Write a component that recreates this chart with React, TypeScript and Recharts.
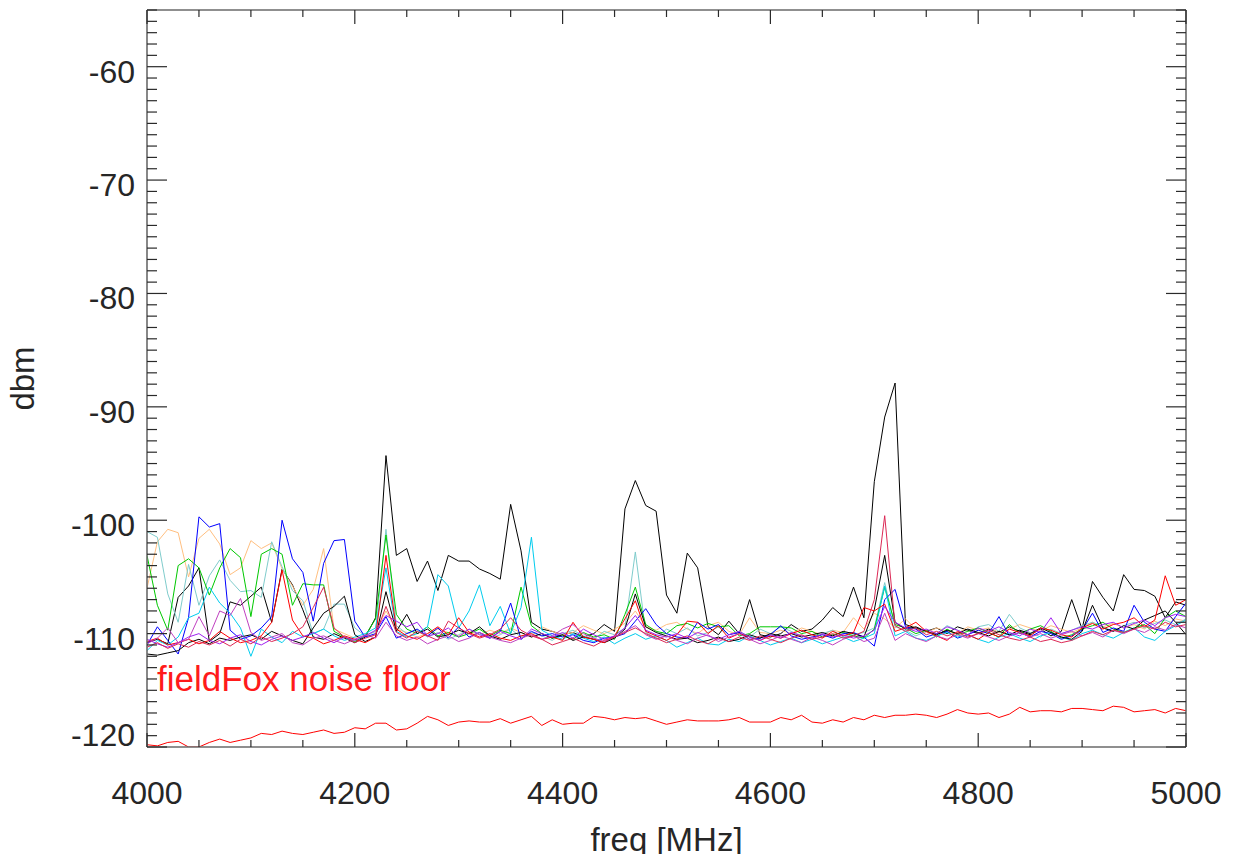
import React from 'react';
import { LineChart, Line, XAxis, YAxis, ReferenceDot } from 'recharts';

const freqMHz = [
  4000, 4010, 4020, 4030, 4040, 4050, 4060, 4070, 4080, 4090,
  4100, 4110, 4120, 4130, 4140, 4150, 4160, 4170, 4180, 4190,
  4200, 4210, 4220, 4230, 4240, 4250, 4260, 4270, 4280, 4290,
  4300, 4310, 4320, 4330, 4340, 4350, 4360, 4370, 4380, 4390,
  4400, 4410, 4420, 4430, 4440, 4450, 4460, 4470, 4480, 4490,
  4500, 4510, 4520, 4530, 4540, 4550, 4560, 4570, 4580, 4590,
  4600, 4610, 4620, 4630, 4640, 4650, 4660, 4670, 4680, 4690,
  4700, 4710, 4720, 4730, 4740, 4750, 4760, 4770, 4780, 4790,
  4800, 4810, 4820, 4830, 4840, 4850, 4860, 4870, 4880, 4890,
  4900, 4910, 4920, 4930, 4940, 4950, 4960, 4970, 4980, 4990,
  5000,
];

const xMajorTicks = [4000, 4200, 4400, 4600, 4800, 5000];
const xMinorTicks = [
  4050, 4100, 4150, 4250, 4300, 4350, 4450, 4500, 4550,
  4650, 4700, 4750, 4850, 4900, 4950,
];
const yMajorTicks = [-120, -110, -100, -90, -80, -70, -60];
const yMinorStepDb = 1;

const black1 = [
  -110.8, -110.5, -110.9, -106.8, -105.8, -104.2, -110.7, -110.0, -107.2, -107.5,
  -106.7, -105.9, -109.0, -104.3, -105.7, -107.9, -110.3, -110.5, -110.0, -110.4,
  -110.8, -110.3, -108.6, -94.3, -103.1, -102.5, -105.4, -103.6, -106.2, -103.1,
  -103.6, -103.6, -104.3, -104.7, -105.2, -98.6, -102.7, -109.0, -109.6, -109.8,
  -110.1, -109.9, -110.3, -110.0, -109.2, -109.8, -99.0, -96.5, -98.7, -99.2,
  -106.6, -108.2, -102.9, -104.2, -109.4, -110.1, -108.9, -110.0, -107.0, -110.1,
  -110.3, -110.0, -109.2, -109.8, -109.6, -108.8, -107.7, -108.5, -105.9, -108.6,
  -96.6, -90.9, -87.9, -109.2, -109.5, -109.8, -109.5, -110.0, -109.4, -109.7,
  -110.0, -109.6, -109.9, -109.4, -109.8, -110.1, -109.6, -110.2, -109.8, -107.0,
  -109.6, -105.4, -106.8, -108.0, -104.8, -106.1, -106.2, -106.7, -108.6, -107.2,
  -107.5,
];

const black2 = [
  -111.8, -111.9, -111.7, -111.5, -110.8, -110.5, -110.9, -110.4, -110.6, -110.3,
  -110.1, -110.5, -109.8, -110.2, -110.6, -110.9, -109.5, -108.2, -107.6, -106.7,
  -110.1, -110.7, -110.3, -106.3, -109.8, -108.3, -110.0, -109.6, -110.3, -110.1,
  -109.7, -110.0, -109.4, -110.2, -110.5, -110.1, -109.9, -110.3, -110.0, -110.4,
  -110.1, -110.6, -110.3, -110.5, -110.8, -110.4, -109.6, -106.5, -109.4, -109.9,
  -110.2, -110.5, -110.4, -110.8, -110.6, -110.3, -110.7, -110.5, -110.1, -110.4,
  -110.0, -110.2, -110.0, -110.3, -110.1, -109.9, -110.2, -109.8, -110.0, -110.3,
  -107.9, -103.1, -109.0, -109.6, -109.4, -109.8, -110.1, -109.7, -110.0, -109.6,
  -109.9, -110.2, -109.8, -110.1, -109.7, -110.0, -109.5, -109.9, -110.3, -110.5,
  -109.8, -107.5, -109.5, -109.8, -109.3, -109.6, -108.8, -108.4, -108.0, -109.0,
  -110.1,
];

const blue = [
  -111.0, -109.4, -110.6, -111.8, -108.6, -99.7, -100.6, -100.3, -109.7, -110.5,
  -110.2, -109.5, -108.5, -100.0, -103.4, -104.6, -108.9, -103.8, -101.8, -101.7,
  -108.9, -110.3, -110.0, -108.5, -110.4, -110.0, -109.6, -110.2, -109.5, -110.4,
  -109.4, -110.3, -109.9, -110.4, -109.8, -107.3, -110.5, -109.8, -110.2, -110.0,
  -110.3, -110.1, -110.6, -110.8, -110.4, -110.3, -110.0, -108.9, -107.8, -109.2,
  -110.0, -110.3, -110.4, -109.0, -109.6, -109.2, -110.1, -109.9, -110.5, -110.4,
  -110.1, -109.3, -110.2, -110.5, -110.3, -110.1, -110.4, -110.0, -109.9, -110.3,
  -111.1, -107.0, -106.1, -109.4, -109.6, -110.3, -110.0, -109.8, -110.4, -110.1,
  -109.7, -110.0, -108.5, -110.2, -109.9, -110.3, -109.8, -110.0, -110.5, -110.2,
  -109.7, -108.2, -109.9, -109.5, -109.8, -107.5, -109.0, -109.6, -109.8, -108.5,
  -107.3,
];

const green = [
  -103.1, -107.5, -109.7, -104.0, -103.4, -104.2, -106.6, -104.2, -102.5, -103.3,
  -108.5, -103.0, -102.5, -103.0, -107.5, -105.6, -105.7, -105.7, -109.8, -110.3,
  -110.7, -110.2, -108.7, -101.3, -108.3, -109.6, -110.0, -109.4, -110.2, -109.9,
  -110.3, -110.0, -109.6, -110.2, -109.7, -110.0, -105.9, -109.3, -110.0, -110.4,
  -110.2, -110.5, -109.9, -110.3, -110.1, -110.5, -108.3, -105.9, -109.2, -109.8,
  -110.0, -109.3, -109.1, -109.5, -109.1, -109.4, -109.3, -110.2, -110.0, -109.4,
  -109.4, -109.4, -109.5, -110.0, -109.8, -110.3, -110.1, -109.9, -110.2, -110.4,
  -109.6, -105.9, -109.2, -109.5, -110.0, -109.7, -110.3, -109.6, -110.1, -109.8,
  -109.5, -109.9, -110.3, -109.2, -110.0, -109.6, -109.3, -109.8, -110.4, -110.1,
  -109.6, -109.3, -109.0, -109.6, -109.9, -109.5, -109.2, -110.0, -108.6, -108.0,
  -108.5,
];

const red = [
  -110.7, -110.4, -111.0, -110.8, -110.5, -110.9, -110.6, -109.8, -110.4, -110.8,
  -110.6, -110.2, -109.0, -104.4, -108.8, -110.2, -110.4, -110.9, -110.6, -110.2,
  -110.5, -110.8, -110.3, -103.1, -109.6, -110.2, -110.5, -110.0, -109.4, -110.1,
  -108.6, -109.9, -110.3, -110.0, -110.4, -110.6, -110.2, -110.0, -110.5, -110.3,
  -110.6, -109.0, -110.3, -110.5, -110.8, -110.2, -108.7, -107.1, -109.8, -110.2,
  -110.6, -110.1, -108.9, -109.0, -110.0, -109.3, -110.4, -110.0, -110.3, -110.6,
  -110.2, -110.4, -110.0, -109.7, -110.1, -110.4, -109.8, -110.2, -109.9, -107.7,
  -108.0, -107.4, -109.8, -109.5, -109.0, -109.8, -110.2, -110.6, -109.8, -110.1,
  -110.5, -109.9, -110.3, -109.6, -109.9, -110.2, -109.5, -109.7, -110.1, -110.3,
  -109.5, -109.1, -109.6, -109.2, -109.0, -108.6, -109.4, -108.8, -104.9, -107.5,
  -107.0,
];

const orange = [
  -106.0, -101.9, -100.8, -101.1, -105.0, -101.6, -100.8, -102.1, -104.8, -104.2,
  -101.8, -102.5, -102.0, -104.3, -105.8, -107.5, -106.1, -102.5, -109.6, -110.0,
  -110.4, -110.2, -109.8, -108.0, -109.6, -109.9, -110.3, -110.0, -109.6, -109.9,
  -110.2, -109.8, -110.1, -109.7, -110.0, -109.5, -109.9, -110.3, -109.4, -109.8,
  -110.1, -109.9, -109.3, -109.7, -110.0, -109.6, -109.1, -108.0, -109.4, -109.7,
  -109.2, -109.0, -109.6, -110.0, -109.3, -109.0, -109.8, -110.1, -108.6, -109.9,
  -110.0, -109.7, -110.0, -109.5, -109.8, -110.1, -109.7, -109.9, -108.6, -109.6,
  -108.2, -108.7, -109.5, -108.7, -109.6, -109.9, -109.5, -109.8, -110.0, -109.4,
  -109.7, -109.5, -109.9, -109.6, -109.2, -109.5, -109.8, -109.3, -109.6, -109.9,
  -109.5, -109.0, -109.4, -109.1, -109.5, -109.2, -109.6, -108.9, -109.3, -108.7,
  -108.9,
];

const paleTeal = [
  -101.0, -101.5, -106.5, -109.0, -103.9, -107.5, -104.9, -103.5, -105.3, -106.3,
  -106.2, -106.8, -101.9, -104.1, -106.2, -107.1, -110.0, -109.6, -107.4, -107.4,
  -109.5, -110.2, -109.8, -100.8, -109.3, -110.0, -109.7, -110.3, -109.9, -110.5,
  -110.1, -109.6, -110.0, -110.4, -110.1, -109.6, -110.3, -109.9, -110.2, -110.6,
  -110.0, -109.7, -110.2, -110.5, -109.8, -110.1, -109.5, -102.8, -109.9, -110.4,
  -109.6, -110.0, -109.5, -110.2, -109.9, -109.4, -110.1, -109.8, -110.3, -109.6,
  -110.0, -109.4, -109.8, -110.2, -110.5, -110.0, -109.7, -110.3, -110.1, -109.9,
  -109.5, -105.5, -109.4, -109.7, -110.2, -109.8, -110.0, -109.3, -109.7, -110.1,
  -109.4, -109.2, -109.8, -108.3, -109.5, -109.9, -110.3, -109.6, -110.0, -109.7,
  -109.3, -109.0, -109.4, -109.8, -109.3, -109.0, -109.5, -109.1, -108.8, -109.2,
  -108.7,
];

const cyan = [
  -111.5, -110.6, -111.0, -110.3, -108.6, -108.2, -105.9, -107.3, -108.2, -109.5,
  -112.0, -109.6, -110.3, -110.8, -109.8, -110.3, -110.0, -109.6, -110.2, -110.6,
  -110.3, -110.0, -109.5, -104.2, -109.8, -110.3, -110.0, -109.4, -104.8, -105.8,
  -109.5, -108.0, -105.7, -109.3, -107.6, -110.0, -107.7, -101.5, -109.7, -110.2,
  -110.5, -110.0, -110.4, -110.7, -110.3, -110.9, -110.4, -110.0, -110.5, -110.2,
  -110.6, -111.2, -110.8, -110.4, -110.9, -111.0, -110.5, -110.7, -110.2, -110.6,
  -111.0, -110.7, -110.4, -110.8, -110.5, -110.9, -110.6, -110.3, -110.7, -110.4,
  -110.0, -105.8, -110.2, -109.8, -110.4, -110.6, -110.2, -109.9, -110.3, -110.1,
  -110.5, -110.8, -110.3, -110.0, -110.4, -110.7, -110.2, -109.9, -110.3, -110.6,
  -110.0, -109.7, -110.1, -110.4, -109.9, -109.5, -110.3, -110.6, -109.8, -109.3,
  -108.8,
];

const purple = [
  -110.5, -110.9, -111.2, -110.8, -110.3, -110.0, -110.6, -110.9, -110.4, -110.1,
  -110.7, -111.0, -110.5, -110.2, -110.6, -110.3, -109.9, -110.4, -110.8, -110.3,
  -110.6, -110.2, -109.7, -108.4, -108.9, -109.4, -109.0, -110.2, -110.0, -109.5,
  -110.3, -109.6, -110.1, -110.4, -109.8, -110.2, -110.5, -109.6, -110.0, -110.3,
  -109.9, -110.4, -109.6, -110.1, -110.5, -110.2, -109.5, -108.4, -109.7, -110.1,
  -110.3, -110.0, -110.4, -109.9, -110.2, -110.5, -110.1, -109.8, -110.3, -110.6,
  -110.1, -110.4, -109.9, -110.2, -110.5, -110.0, -110.3, -110.1, -110.4, -110.2,
  -109.7, -107.6, -109.0, -109.5, -109.8, -109.6, -110.0, -109.4, -109.7, -110.1,
  -109.5, -109.8, -109.4, -109.9, -110.2, -109.6, -109.9, -108.6, -110.0, -109.7,
  -109.4, -109.6, -109.2, -109.0, -109.5, -109.1, -108.8, -109.3, -108.6, -108.3,
  -108.5,
];

const magenta = [
  -110.9, -110.4, -109.5, -110.8, -110.5, -108.5, -110.2, -108.0, -108.4, -106.9,
  -109.9, -110.6, -110.3, -110.0, -110.8, -111.0, -110.4, -110.2, -110.6, -110.9,
  -110.5, -110.1, -110.4, -109.0, -110.2, -110.6, -110.3, -110.9, -110.5, -110.2,
  -110.7, -110.4, -109.9, -110.3, -110.6, -110.8, -110.4, -110.1, -110.5, -110.2,
  -109.6, -109.2, -110.0, -110.4, -110.7, -110.3, -109.8, -109.3, -110.1, -110.5,
  -110.2, -110.6, -110.9, -110.4, -110.1, -110.7, -110.3, -110.0, -110.5, -110.9,
  -110.6, -110.2, -110.5, -110.8, -110.3, -110.6, -111.0, -110.5, -110.2, -110.7,
  -110.4, -108.2, -110.6, -110.0, -110.4, -110.7, -110.2, -110.5, -110.1, -110.4,
  -110.0, -110.3, -110.6, -110.2, -109.9, -110.3, -110.0, -110.4, -110.1, -109.8,
  -110.2, -109.9, -110.3, -109.7, -110.0, -109.6, -109.9, -109.4, -109.7, -109.2,
  -109.5,
];

const crimson = [
  -111.2, -110.8, -111.3, -110.9, -111.2, -110.7, -111.0, -110.6, -111.1, -110.5,
  -110.9, -110.3, -110.7, -110.4, -110.0, -109.4, -107.7, -105.9, -109.5, -110.3,
  -110.8, -110.4, -110.1, -107.6, -109.9, -110.4, -109.8, -110.2, -110.6, -108.9,
  -109.5, -110.0, -110.4, -110.1, -109.6, -108.6, -109.7, -110.2, -110.5, -111.0,
  -110.7, -110.4, -110.8, -111.1, -110.6, -110.3, -109.9, -109.5, -110.0, -110.4,
  -110.8, -110.5, -110.2, -110.6, -110.9, -110.4, -110.7, -110.3, -110.6, -110.2,
  -110.5, -110.8, -110.4, -110.1, -110.5, -110.3, -110.0, -110.4, -110.2, -109.8,
  -107.0, -99.6, -109.3, -109.8, -109.5, -110.1, -109.8, -110.2, -109.9, -110.3,
  -110.0, -109.7, -110.1, -110.4, -110.6, -110.3, -110.7, -110.5, -110.8, -110.6,
  -110.2, -109.8, -110.1, -109.7, -109.9, -109.6, -109.3, -109.6, -109.0, -109.4,
  -109.2,
];

const noiseFloor = [
  -119.8, -119.9, -119.6, -119.5, -120.0, -120.0, -119.6, -119.3, -119.6, -119.4,
  -119.2, -118.8, -118.9, -118.6, -118.8, -118.9, -118.7, -118.5, -118.8, -118.7,
  -118.3, -118.4, -117.9, -117.9, -118.5, -118.4, -117.9, -117.3, -117.6, -118.1,
  -117.8, -117.7, -117.8, -117.8, -117.5, -117.9, -117.6, -117.3, -118.1, -117.6,
  -118.0, -117.9, -117.9, -117.3, -117.4, -117.6, -117.4, -117.5, -117.4, -117.7,
  -118.0, -117.8, -117.6, -117.7, -117.7, -117.7, -117.6, -117.4, -117.8, -117.8,
  -117.8, -117.4, -117.6, -117.2, -117.8, -117.9, -117.6, -117.8, -117.4, -117.6,
  -117.2, -117.4, -117.2, -117.2, -117.1, -117.2, -117.4, -117.1, -116.7, -117.0,
  -117.1, -117.0, -117.4, -117.1, -116.5, -116.9, -116.8, -116.8, -116.9, -116.6,
  -116.6, -116.7, -116.8, -116.4, -116.5, -116.9, -116.8, -116.7, -117.0, -116.6,
  -116.8,
];

const seriesDefs = [
  { key: 'black1', values: black1, color: '#000000' },
  { key: 'orange', values: orange, color: '#ffbf80' },
  { key: 'paleTeal', values: paleTeal, color: '#7fcccc' },
  { key: 'green', values: green, color: '#00c800' },
  { key: 'blue', values: blue, color: '#0000ff' },
  { key: 'cyan', values: cyan, color: '#00ccee' },
  { key: 'black2', values: black2, color: '#000000' },
  { key: 'red', values: red, color: '#ff0000' },
  { key: 'purple', values: purple, color: '#a020f0' },
  { key: 'magenta', values: magenta, color: '#c040c0' },
  { key: 'crimson', values: crimson, color: '#dc2855' },
];

const rows = freqMHz.map((f, i) => {
  const r: Record<string, number> = { f, noise: noiseFloor[i] };
  seriesDefs.forEach((s) => {
    r[s.key] = s.values[i];
  });
  return r;
});

const X_DOMAIN: [number, number] = [4000, 5000];
const Y_DOMAIN: [number, number] = [-120, -55];
const xTicks = [...xMajorTicks, ...xMinorTicks].sort((a, b) => a - b);
const yTicks: number[] = [];
for (let v = Y_DOMAIN[0]; v <= Y_DOMAIN[1]; v += yMinorStepDb) yTicks.push(v);

const FONT = "'Liberation Sans', Arial, Helvetica, sans-serif";
const FRAME = '#6a6a6a';
const TICK = '#2a2a2a';
const TXT = '#262626';

const BottomTick = (p: any) => {
  const major = xMajorTicks.includes(p.payload.value);
  return (
    <g>
      <line x1={p.x} x2={p.x} y1={p.y} y2={p.y - (major ? 14 : 7)} stroke={TICK} strokeWidth={1.2} />
      {major ? (
        <text x={p.x} y={p.y + 57} textAnchor="middle" fontSize={32} fontFamily={FONT} fill={TXT}>
          {p.payload.value}
        </text>
      ) : null}
    </g>
  );
};

const TopTick = (p: any) => {
  const major = xMajorTicks.includes(p.payload.value);
  return <line x1={p.x} x2={p.x} y1={p.y} y2={p.y + (major ? 14 : 7)} stroke={TICK} strokeWidth={1.2} />;
};

const LeftTick = (p: any) => {
  const v = p.payload.value;
  const major = yMajorTicks.includes(v);
  const base = v === Y_DOMAIN[0] ? p.y - 1 : p.y + 16;
  return (
    <g>
      <line x1={p.x} x2={p.x + (major ? 20 : 10)} y1={p.y} y2={p.y} stroke={TICK} strokeWidth={1.2} />
      {major ? (
        <text x={p.x - 12} y={base} textAnchor="end" fontSize={32} fontFamily={FONT} fill={TXT}>
          {v}
        </text>
      ) : null}
    </g>
  );
};

const RightTick = (p: any) => {
  const major = yMajorTicks.includes(p.payload.value);
  return <line x1={p.x} x2={p.x - (major ? 20 : 10)} y1={p.y} y2={p.y} stroke={TICK} strokeWidth={1.2} />;
};

const XTitle = (p: any) => {
  const vb = p.viewBox || { x: 147, y: 747, width: 1039 };
  return (
    <text x={vb.x + vb.width / 2} y={vb.y + 104} textAnchor="middle" fontSize={33} fontFamily={FONT} fill={TXT}>
      freq [MHz]
    </text>
  );
};

const YTitle = (p: any) => {
  const vb = p.viewBox || { x: 0, y: 10, width: 147, height: 737 };
  const cx = 34;
  const cy = vb.y + vb.height / 2;
  return (
    <text x={cx} y={cy} transform={`rotate(-90, ${cx}, ${cy})`} textAnchor="middle" fontSize={33} fontFamily={FONT} fill={TXT}>
      dbm
    </text>
  );
};

const NoteLabel = (p: any) => {
  const vb = p.viewBox;
  const x = vb.x + vb.width / 2 + 10;
  const y = vb.y + vb.height / 2 + 12;
  return (
    <text x={x} y={y} fontSize={35} fontFamily={FONT} fill="#ff1a1a">
      fieldFox noise floor
    </text>
  );
};

const W = 1241;
const H = 862;

export default function App() {
  return (
    <div style={{ width: W, height: H, margin: '-8px 0 -8px -8px', background: '#ffffff' }}>
      <LineChart width={W} height={H} data={rows} margin={{ top: 9, right: 54, bottom: 0, left: 0 }}>
        <XAxis
          xAxisId="b"
          dataKey="f"
          type="number"
          domain={X_DOMAIN}
          allowDataOverflow
          ticks={xTicks}
          interval={0}
          tickSize={0}
          tickMargin={0}
          height={115}
          tickLine={false}
          axisLine={{ stroke: FRAME, strokeWidth: 1.6 }}
          tick={(p: any) => <BottomTick {...p} />}
          label={{ content: (p: any) => <XTitle {...p} /> }}
        />
        <XAxis
          xAxisId="t"
          orientation="top"
          dataKey="f"
          type="number"
          domain={X_DOMAIN}
          allowDataOverflow
          ticks={xTicks}
          interval={0}
          tickSize={0}
          tickMargin={0}
          height={1}
          tickLine={false}
          axisLine={{ stroke: FRAME, strokeWidth: 1.6 }}
          tick={(p: any) => <TopTick {...p} />}
        />
        <YAxis
          yAxisId="l"
          type="number"
          domain={Y_DOMAIN}
          allowDataOverflow
          ticks={yTicks}
          interval={0}
          tickSize={0}
          tickMargin={0}
          width={147}
          tickLine={false}
          axisLine={{ stroke: FRAME, strokeWidth: 1.6 }}
          tick={(p: any) => <LeftTick {...p} />}
          label={{ content: (p: any) => <YTitle {...p} /> }}
        />
        <YAxis
          yAxisId="r"
          orientation="right"
          type="number"
          domain={Y_DOMAIN}
          allowDataOverflow
          ticks={yTicks}
          interval={0}
          tickSize={0}
          tickMargin={0}
          width={1}
          tickLine={false}
          axisLine={{ stroke: FRAME, strokeWidth: 1.6 }}
          tick={(p: any) => <RightTick {...p} />}
        />
        {seriesDefs.map((s) => (
          <Line
            key={s.key}
            xAxisId="b"
            yAxisId="l"
            type="linear"
            dataKey={s.key}
            stroke={s.color}
            strokeWidth={1}
            dot={false}
            activeDot={false}
            isAnimationActive={false}
          />
        ))}
        <Line
          xAxisId="t"
          yAxisId="r"
          type="linear"
          dataKey="noise"
          stroke="#ff0000"
          strokeWidth={1}
          dot={false}
          activeDot={false}
          isAnimationActive={false}
        />
        <ReferenceDot
          xAxisId="b"
          yAxisId="l"
          x={4000}
          y={-114}
          r={1}
          fill="none"
          stroke="none"
          ifOverflow="visible"
          label={{ content: (p: any) => <NoteLabel {...p} /> }}
        />
      </LineChart>
    </div>
  );
}
